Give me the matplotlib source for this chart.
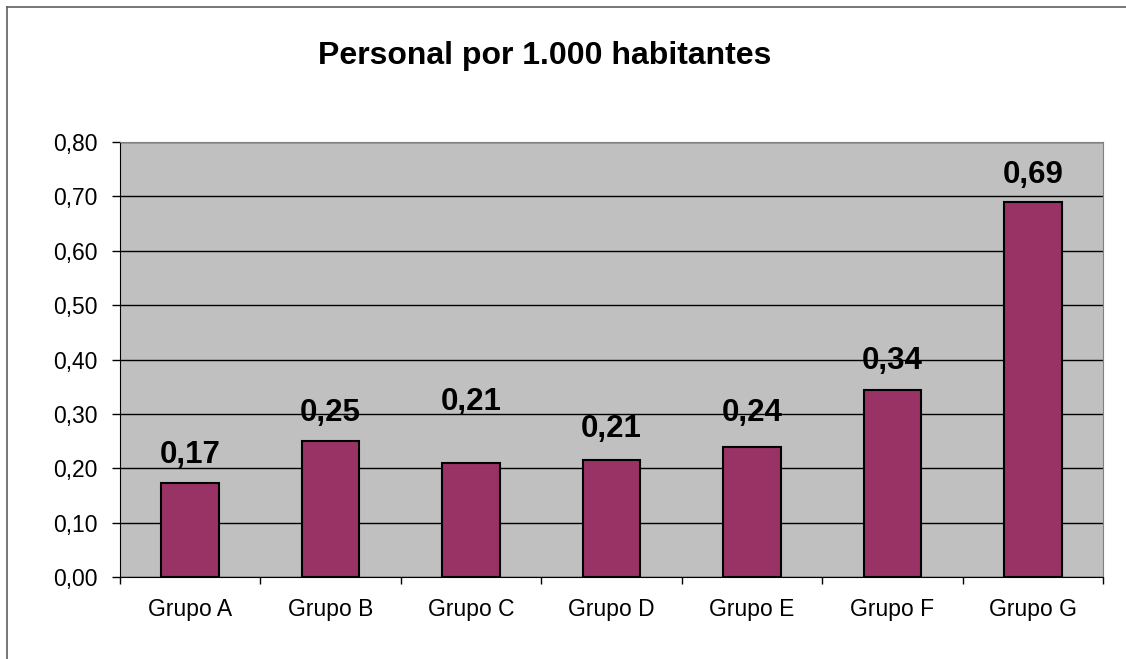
import matplotlib.pyplot as plt
from matplotlib.lines import Line2D

plt.rcParams['font.family'] = ['Liberation Sans', 'DejaVu Sans']

grupos = ['Grupo A', 'Grupo B', 'Grupo C', 'Grupo D', 'Grupo E', 'Grupo F', 'Grupo G']
personal = [0.173, 0.250, 0.210, 0.215, 0.240, 0.344, 0.689]
etiquetas = ['0,17', '0,25', '0,21', '0,21', '0,24', '0,34', '0,69']
# separación de la etiqueta sobre la barra (Excel dejó la de C más arriba)
desplaz = [0.052, 0.052, 0.112, 0.057, 0.061, 0.053, 0.050]

fig = plt.figure(figsize=(11.26, 6.59), dpi=100)
ax = fig.add_axes([120/1126, 1 - 577/659, 983/1126, 435/659])
ax.set_facecolor('#C0C0C0')

x = range(len(grupos))
ax.bar(x, personal, width=0.41, color='#993366', edgecolor='black', linewidth=1.5, zorder=3)

for i, v in enumerate(personal):
    ax.text(i, v + desplaz[i], etiquetas[i], ha='center', va='center',
            fontsize=22.5, fontweight='bold', zorder=4)

ax.set_ylim(0, 0.8)
ax.set_xlim(-0.5, len(grupos) - 0.5)
yt = [i / 10 for i in range(9)]
ax.set_yticks(yt)
ax.set_yticklabels([('%.2f' % t).replace('.', ',') for t in yt], fontsize=16.5)
ax.yaxis.grid(True, color='black', linewidth=1, zorder=1)
ax.set_axisbelow(True)

ax.set_xticks(list(x))
ax.set_xticklabels(grupos, fontsize=16.5)
ax.set_xticks([i - 0.5 for i in range(len(grupos) + 1)], minor=True)
ax.tick_params(axis='x', which='major', length=0, pad=15)
ax.tick_params(axis='x', which='minor', length=5, width=1, direction='out')
ax.tick_params(axis='y', length=6, width=1, direction='out', pad=10)

ax.spines['top'].set_color('#808080')
ax.spines['right'].set_color('#808080')
ax.spines['left'].set_color('black')
ax.spines['bottom'].set_color('black')

fig.text(545/1126, 1 - 56/659, 'Personal por 1.000 habitantes', ha='center', va='center',
         fontsize=23, fontweight='bold')

# marco del gráfico (sólo se ven los bordes izquierdo y superior)
fig.add_artist(Line2D([7/1126, 7/1126], [0, 1 - 7/659], color='#606060', linewidth=1.2))
fig.add_artist(Line2D([7/1126, 1], [1 - 7/659, 1 - 7/659], color='#606060', linewidth=1.2))

fig.savefig('out.png', dpi=100)
